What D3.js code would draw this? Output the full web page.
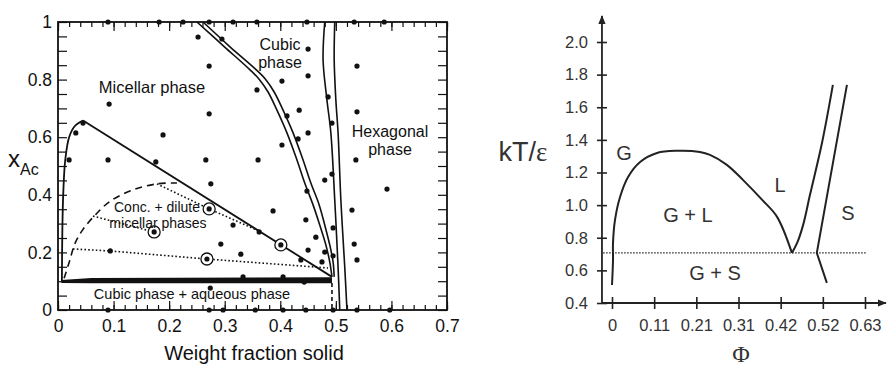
<!DOCTYPE html>
<html><head><meta charset="utf-8">
<script src="https://cdn.jsdelivr.net/npm/d3@7"></script>
<style>body{margin:0;background:#fff}svg{display:block}</style>
</head><body>
<svg id="c" width="888" height="367"></svg>
<script>
// ---------------- LEFT PANEL DATA ----------------
const leftXTicks = [0,0.1,0.2,0.3,0.4,0.5,0.6,0.7];
const leftXTickLabels = ["0","0.1","0.2","0.3","0.4","0.5","0.6","0.7"];
const leftYTicks = [0,0.2,0.4,0.6,0.8,1];
const leftYTickLabels = ["0","0.2","0.4","0.6","0.8","1"];

// sample compositions (weight fraction solid, x_Ac)
const sampleX = [0.090,0.182,0.225,0.272,0.315,0.358,0.448,0.533,0.587,
  0.090,0.272,0.297,0.355,0.405,0.446,0.495,0.538,0.597,
  0.252,0.295,0.272,0.092,0.272,0.189,0.045,0.032,0.020,0.090,0.176,0.266,
  0.450,0.538,0.403,0.450,0.358,0.486,0.538,0.412,0.434,0.493,0.450,0.432,0.403,0.360,0.536,0.493,0.480,
  0.275,0.448,0.592,0.529,0.387,0.446,0.495,0.315,0.362,0.293,0.464,0.533,0.450,0.480,0.329,0.437,0.475,0.495,0.538,0.333,0.405,0.443,0.274,0.094];
const sampleY = [1,1,1,1,1,1,1,1,1,
  0,0,0,0,0,0,0,0,0,
  0.948,0.941,0.847,0.715,0.681,0.608,0.649,0.615,0.521,0.521,0.514,0.521,
  0.906,0.847,0.795,0.813,0.764,0.740,0.688,0.674,0.694,0.649,0.615,0.594,0.573,0.521,0.521,0.472,0.451,
  0.438,0.413,0.420,0.347,0.344,0.313,0.285,0.295,0.271,0.229,0.253,0.229,0.208,0.201,0.194,0.174,0.167,0.188,0.174,0.115,0.115,0.097,0.076,0.205];
const circledX = [0.173,0.272,0.401,0.268];
const circledY = [0.271,0.351,0.226,0.177];

// micellar binodal (curved part, then straight to apex)
const binodalCurveX = [0.007,0.008,0.010,0.013,0.020,0.030,0.045];
const binodalCurveY = [0.100,0.300,0.430,0.520,0.600,0.638,0.658];
const binodalLineX = [0.045,0.493];
const binodalLineY = [0.658,0.115];

// dashed boundary of conc.+dilute region
const dashedX = [0.011,0.020,0.031,0.045,0.067,0.094,0.135,0.178,0.214];
const dashedY = [0.110,0.165,0.233,0.280,0.330,0.378,0.417,0.438,0.441];
const dashedVertX = [0.493,0.493];
const dashedVertY = [0.094,0];

// tie lines (dotted)
const tieUpperX = [0.178,0.272,0.362];
const tieUpperY = [0.438,0.351,0.274];
const tieMiddleX = [0.063,0.173];
const tieMiddleY = [0.326,0.271];
const tieLowerX = [0.027,0.094,0.268,0.486];
const tieLowerY = [0.212,0.205,0.177,0.146];

// thick cubic + aqueous boundary
const thickX = [0.006,0.06,0.493];
const thickTopY = [0.104,0.111,0.114];
const thickBotY = [0.094,0.093,0.093];

// cubic phase boundaries (double line)
const cubicInnerX = [0.250,0.300,0.346,0.363,0.378,0.394,0.412,0.430,0.444,0.459,0.471,0.482,0.489,0.493];
const cubicInnerY = [1.0,0.913,0.833,0.799,0.757,0.694,0.615,0.521,0.441,0.365,0.295,0.226,0.167,0.115];
const cubicOuterX = [0.261,0.310,0.355,0.373,0.389,0.405,0.423,0.441,0.455,0.470,0.480,0.489,0.495,0.497];
const cubicOuterY = [1.0,0.913,0.837,0.802,0.757,0.694,0.615,0.521,0.441,0.365,0.295,0.226,0.167,0.115];

// hexagonal boundaries (double line)
const hexLeftX = [0.480,0.477,0.484,0.491,0.498,0.504,0.507];
const hexLeftY = [1.0,0.868,0.729,0.615,0.382,0.149,0];
const hexRightX = [0.498,0.497,0.500,0.504,0.509,0.516,0.520];
const hexRightY = [1.0,0.868,0.729,0.615,0.382,0.149,0];

// ---------------- RIGHT PANEL DATA ----------------
const phiTicks = [0,0.105,0.21,0.315,0.42,0.525,0.63];
const phiTickLabels = ["0","0.11","0.21","0.31","0.42","0.52","0.63"];
const tTicks = [0.4,0.6,0.8,1.0,1.2,1.4,1.6,1.8,2.0];
const tTickLabels = ["0.4","0.6","0.8","1.0","1.2","1.4","1.6","1.8","2.0"];

const gasPhi = [0,0.0025,0.0025,0.0075,0.020,0.040,0.070,0.112,0.162,0.219,0.244,0.286,0.326,0.374,0.411,0.448];
const gasT   = [0.510,0.664,0.768,0.909,1.050,1.173,1.265,1.320,1.333,1.326,1.308,1.247,1.155,1.032,0.928,0.707];
const liquidusPhi = [0.448,0.461,0.476,0.493,0.523,0.550];
const liquidusT   = [0.707,0.768,0.879,1.063,1.382,1.737];
const solidusPhi = [0.535,0.510,0.585];
const solidusT   = [0.523,0.707,1.737];
const tripleT = 0.707;
const triplePhiRange = [-0.022,0.635];

// ---------------- DRAW ----------------
const svg = d3.select('#c');
const sans = "'Liberation Sans', Arial, Helvetica, sans-serif";
const serif = "'Liberation Serif', 'Times New Roman', serif";
const ink = "#111";

// ===== Left panel =====
const xL = d3.scaleLinear().domain([0,0.7]).range([58,447]);
const yL = d3.scaleLinear().domain([0,1]).range([310,22]);
const L = svg.append('g');

function styleAxis(g, showText){
  g.select('.domain').remove();
  g.selectAll('.tick line').attr('stroke', ink).attr('stroke-width',1.2);
  g.selectAll('text').attr('font-family', sans).attr('font-size', 17.5).attr('fill', ink);
  if(!showText) g.selectAll('text').remove();
}
const xMinor = d3.range(0,0.7001,0.02);
const yMinor = d3.range(0,1.0001,0.05);

L.append('g').attr('transform','translate(0,310)')
  .call(d3.axisBottom(xL).tickValues(xMinor).tickSize(-5).tickFormat(''))
  .call(g=>styleAxis(g,false));
L.append('g').attr('transform','translate(0,310)')
  .call(d3.axisBottom(xL).tickValues(leftXTicks).tickSize(-9).tickPadding(10)
    .tickFormat((d,i)=>leftXTickLabels[i]))
  .call(g=>styleAxis(g,true));
L.append('g').attr('transform','translate(0,22)')
  .call(d3.axisTop(xL).tickValues(xMinor).tickSize(-5).tickFormat(''))
  .call(g=>styleAxis(g,false));
L.append('g').attr('transform','translate(0,22)')
  .call(d3.axisTop(xL).tickValues(leftXTicks).tickSize(-9).tickFormat(''))
  .call(g=>styleAxis(g,false));
L.append('g').attr('transform','translate(58,0)')
  .call(d3.axisLeft(yL).tickValues(yMinor).tickSize(-9).tickFormat(''))
  .call(g=>styleAxis(g,false));
L.append('g').attr('transform','translate(58,0)')
  .call(d3.axisLeft(yL).tickValues(leftYTicks).tickSize(0).tickPadding(6)
    .tickFormat((d,i)=>leftYTickLabels[i]))
  .call(g=>styleAxis(g,true));
L.append('g').attr('transform','translate(447,0)')
  .call(d3.axisRight(yL).tickValues(yMinor).tickSize(-9).tickFormat(''))
  .call(g=>styleAxis(g,false));

L.append('rect').attr('x',xL(0)).attr('y',yL(1)).attr('width',xL(0.7)-xL(0)).attr('height',yL(0)-yL(1))
  .attr('fill','none').attr('stroke',ink).attr('stroke-width',1.8);

const lineL = (xs,ys,curve)=> d3.line().x(i=>xL(xs[i])).y(i=>yL(ys[i])).curve(curve||d3.curveLinear)(d3.range(xs.length));

// thick boundary
L.append('path')
  .attr('d', d3.area().x(i=>xL(thickX[i])).y0(i=>yL(thickBotY[i])).y1(i=>yL(thickTopY[i]))(d3.range(thickX.length)))
  .attr('fill', ink);

// binodal
L.append('path').attr('d', lineL(binodalCurveX,binodalCurveY,d3.curveCatmullRom)).attr('fill','none').attr('stroke',ink).attr('stroke-width',1.8);
L.append('path').attr('d', lineL(binodalLineX,binodalLineY)).attr('fill','none').attr('stroke',ink).attr('stroke-width',1.8);

// dashed
L.append('path').attr('d', lineL(dashedX,dashedY,d3.curveCatmullRom)).attr('fill','none').attr('stroke',ink).attr('stroke-width',1.6).attr('stroke-dasharray','7,5');
L.append('path').attr('d', lineL(dashedVertX,dashedVertY)).attr('fill','none').attr('stroke',ink).attr('stroke-width',1.6).attr('stroke-dasharray','4,3');

// tie lines
[[tieUpperX,tieUpperY],[tieMiddleX,tieMiddleY],[tieLowerX,tieLowerY]].forEach(([xs,ys])=>{
  L.append('path').attr('d', lineL(xs,ys)).attr('fill','none').attr('stroke',ink).attr('stroke-width',1.6).attr('stroke-dasharray','1.6,2.2');
});

// cubic and hexagonal double lines
[[cubicInnerX,cubicInnerY],[cubicOuterX,cubicOuterY],[hexLeftX,hexLeftY],[hexRightX,hexRightY]].forEach(([xs,ys])=>{
  L.append('path').attr('d', lineL(xs,ys,d3.curveCatmullRom)).attr('fill','none').attr('stroke',ink).attr('stroke-width',1.6);
});

// samples
L.append('g').selectAll('circle').data(d3.range(sampleX.length)).join('circle')
  .attr('cx',i=>xL(sampleX[i])).attr('cy',i=>yL(sampleY[i])).attr('r',2.6).attr('fill',ink);
const cg = L.append('g');
cg.selectAll('circle.o').data(d3.range(circledX.length)).join('circle').attr('class','o')
  .attr('cx',i=>xL(circledX[i])).attr('cy',i=>yL(circledY[i])).attr('r',6).attr('fill','#fff').attr('stroke',ink).attr('stroke-width',1.3);
cg.selectAll('circle.i').data(d3.range(circledX.length)).join('circle').attr('class','i')
  .attr('cx',i=>xL(circledX[i])).attr('cy',i=>yL(circledY[i])).attr('r',2.6).attr('fill',ink);

// labels
const lab = (x,y,t,fs,anchor)=>L.append('text').attr('x',x).attr('y',y).attr('text-anchor',anchor||'middle')
  .attr('font-family',sans).attr('font-size',fs).attr('fill',ink).text(t);
lab(152,93,'Micellar phase',16.5);
lab(280,50,'Cubic',16);
lab(280,68,'phase',16);
lab(390,137,'Hexagonal',16);
lab(390,155,'phase',16);
lab(157,212,'Conc. + dilute',14);
lab(158,228,'micellar phases',14);
lab(192,299,'Cubic phase + aqueous phase',14.5);
lab(254,360,'Weight fraction solid',20);
const yl = L.append('text').attr('x',8).attr('y',167).attr('font-family',sans).attr('font-size',24).attr('fill',ink);
yl.append('tspan').text('x');
yl.append('tspan').attr('dy',8).attr('font-size',16).text('Ac');

// ===== Right panel =====
const xR = d3.scaleLinear().domain([0,0.63]).range([612,865]);
const yR = d3.scaleLinear().domain([0.4,2.0]).range([303,42]);
const R = svg.append('g');
const rInk = "#222";
const rText = "#333";

const defs = svg.append('defs');
defs.append('marker').attr('id','arr').attr('viewBox','0 0 10 10').attr('refX',9).attr('refY',5)
  .attr('markerWidth',9).attr('markerHeight',9).attr('markerUnits','userSpaceOnUse').attr('orient','auto')
  .append('path').attr('d','M0,1 L10,5 L0,9 Z').attr('fill',rInk);

const axX0 = -0.025;
R.append('line').attr('x1',xR(axX0)).attr('x2',xR(0.682)).attr('y1',yR(0.4)).attr('y2',yR(0.4))
  .attr('stroke',rInk).attr('stroke-width',1.8).attr('marker-end','url(#arr)');
R.append('line').attr('x1',xR(axX0)).attr('x2',xR(axX0)).attr('y1',yR(0.4)).attr('y2',yR(2.16))
  .attr('stroke',rInk).attr('stroke-width',1.8).attr('marker-end','url(#arr)');

R.append('g').attr('transform',`translate(0,${yR(0.4)})`)
  .call(d3.axisBottom(xR).tickValues(phiTicks).tickSize(6).tickPadding(10).tickFormat((d,i)=>phiTickLabels[i]))
  .call(g=>{g.select('.domain').remove();
    g.selectAll('.tick line').attr('y1',-6).attr('stroke',rInk).attr('stroke-width',1.6);
    g.selectAll('text').attr('font-family',sans).attr('font-size',16.5).attr('fill',rText);});
R.append('g').attr('transform',`translate(${xR(axX0)},0)`)
  .call(d3.axisLeft(yR).tickValues(tTicks).tickSize(5).tickPadding(9).tickFormat((d,i)=>tTickLabels[i]))
  .call(g=>{g.select('.domain').remove();
    g.selectAll('.tick line').attr('x1',5).attr('stroke',rInk).attr('stroke-width',1.6);
    g.selectAll('text').attr('font-family',sans).attr('font-size',16.5).attr('fill',rText);});

const lineR = (xs,ys,curve)=> d3.line().x(i=>xR(xs[i])).y(i=>yR(ys[i])).curve(curve||d3.curveLinear)(d3.range(xs.length));
R.append('path').attr('d',lineR(triplePhiRange,[tripleT,tripleT])).attr('stroke',rInk).attr('stroke-width',1.4)
  .attr('stroke-dasharray','1.5,1.5').attr('fill','none');
R.append('path').attr('d',lineR(gasPhi,gasT,d3.curveCatmullRom)).attr('stroke',rInk).attr('stroke-width',2).attr('fill','none');
R.append('path').attr('d',lineR(liquidusPhi,liquidusT,d3.curveCatmullRom)).attr('stroke',rInk).attr('stroke-width',2).attr('fill','none');
R.append('path').attr('d',lineR(solidusPhi,solidusT)).attr('stroke',rInk).attr('stroke-width',2).attr('fill','none');

const labR = (x,y,t,fs,fam)=>R.append('text').attr('x',x).attr('y',y).attr('text-anchor','middle')
  .attr('font-family',fam||sans).attr('font-size',fs).attr('fill',rText).text(t);
labR(624,160,'G',20);
labR(688,222,'G + L',20);
labR(715,280,'G + S',20);
labR(780,192,'L',20);
labR(848,220,'S',20);
labR(741,362,'Φ',24,serif);
const kt = R.append('text').attr('x',523).attr('y',161).attr('text-anchor','middle').attr('font-family',sans).attr('font-size',27).attr('fill',rText);
kt.append('tspan').text('kT/');
kt.append('tspan').attr('font-family',serif).text('ε');
</script>
</body></html>
